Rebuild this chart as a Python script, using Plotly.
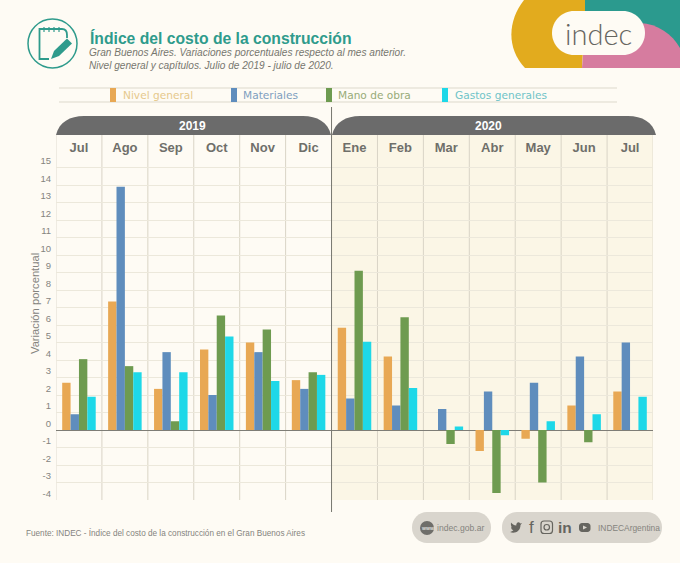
import plotly.graph_objects as go

W, H = 680, 563

months = ['Jul', 'Ago', 'Sep', 'Oct', 'Nov', 'Dic', 'Ene', 'Feb', 'Mar', 'Abr', 'May', 'Jun', 'Jul']
positions = list(range(13))
y_ticks = list(range(-4, 16))
y_tick_labels = [str(t) for t in y_ticks]

nivel_general = [2.7, 7.35, 2.35, 4.6, 5.0, 2.85, 5.85, 4.2, 0, -1.2, -0.5, 1.4, 2.2]
materiales = [0.9, 13.9, 4.45, 2.0, 4.45, 2.35, 1.8, 1.4, 1.2, 2.2, 2.7, 4.2, 5.0]
mano_de_obra = [4.05, 3.65, 0.5, 6.55, 5.75, 3.3, 9.1, 6.45, -0.8, -3.6, -3.0, -0.7, 0]
gastos_generales = [1.9, 3.3, 3.3, 5.35, 2.8, 3.15, 5.05, 2.4, 0.2, -0.3, 0.5, 0.9, 1.9]

series = [
    ('Nivel general', nivel_general, '#E8A854', '#E6C98C', 110, 123),
    ('Materiales', materiales, '#5F8DBD', '#7FA0C0', 231, 243),
    ('Mano de obra', mano_de_obra, '#6E9B50', '#98AB78', 326, 338),
    ('Gastos generales', gastos_generales, '#1ED8E8', '#70C4C8', 442, 455),
]

BG = '#FEFBF4'
TINT = '#FBF6E6'
TEAL = '#2F9B8C'
DARK = '#6B6B6B'
PILL = '#D9D5CD'
ICON = '#66655F'
SANS = 'Liberation Sans'

# plot area in page pixels
LEFT, RIGHT, TOP, BOTTOM = 56, 653, 135, 500
UNIT = 17.5


def px(*cmds):
    # path written in page pixels, y going down
    out = []
    for c in cmds:
        if isinstance(c, str):
            out.append(c)
        else:
            out.append(f'{c[0] / W:.5f} {1 - c[1] / H:.5f}')
    return ' '.join(out)


def deco(path, fill=None, line=None, width=0, layer='above'):
    return dict(type='path', xref='paper', yref='paper', path=path, layer=layer,
                fillcolor=fill or 'rgba(0,0,0,0)',
                line=dict(color=line or 'rgba(0,0,0,0)', width=width))


def box(x0, y0, x1, y1, fill=None, line=None, width=0, kind='rect', layer='above'):
    return dict(type=kind, xref='paper', yref='paper', x0=x0 / W, x1=x1 / W,
                y0=1 - y0 / H, y1=1 - y1 / H, layer=layer,
                fillcolor=fill or 'rgba(0,0,0,0)',
                line=dict(color=line or 'rgba(0,0,0,0)', width=width))


def pill(x0, y0, x1, y1, r, fill):
    k = r * 0.45
    return deco(px('M', (x0 + r, y0), 'L', (x1 - r, y0),
                   'C', (x1 - k, y0), (x1, y0 + k), (x1, y0 + r),
                   'L', (x1, y1 - r),
                   'C', (x1, y1 - k), (x1 - k, y1), (x1 - r, y1),
                   'L', (x0 + r, y1),
                   'C', (x0 + k, y1), (x0, y1 - k), (x0, y1 - r),
                   'L', (x0, y0 + r),
                   'C', (x0, y0 + k), (x0 + k, y0), (x0 + r, y0), 'Z'), fill=fill)


def text(x, y, s, size, color, anchor='left', family=SANS, angle=0, weight=None):
    # annotations carry a little padding on the left
    if anchor == 'left':
        x -= 2
    font = dict(size=size, color=color, family=family)
    if weight:
        font['weight'] = weight
    return dict(xref='paper', yref='paper', x=x / W, y=1 - y / H, text=s, showarrow=False,
                xanchor=anchor, yanchor='middle', textangle=angle, font=font)


fig = go.Figure()
for name, values, color, _, _, _ in series:
    fig.add_trace(go.Bar(x=positions, y=values, name=name, marker=dict(color=color, line_width=0)))

shapes = []

# 2020 tint and column dividers
shapes.append(dict(type='rect', xref='x', yref='paper', x0=5.5, x1=12.5,
                   y0=1 - BOTTOM / H, y1=1 - TOP / H, fillcolor=TINT, line_width=0, layer='below'))
for p in positions[:-1]:
    if p != 5:
        shapes.append(dict(type='line', xref='x', yref='paper', x0=p + 0.5, x1=p + 0.5,
                           y0=1 - BOTTOM / H, y1=1 - TOP / H,
                           line=dict(color='#D9D4C6', width=1), layer='below'))
for edge in (-0.5, 12.5):
    shapes.append(dict(type='line', xref='x', yref='paper', x0=edge, x1=edge,
                       y0=1 - BOTTOM / H, y1=1 - TOP / H,
                       line=dict(color='#E0DCCF', width=1), layer='below'))
shapes.append(dict(type='line', xref='x', yref='paper', x0=5.5, x1=5.5,
                   y0=1 - 512 / H, y1=1 - 107 / H, line=dict(color='#77776F', width=1)))

# year banners
for x0, x1 in ((56, 331), (332, 656)):
    shapes.append(deco(px('M', (x0, 135), 'C', (x0 + 3, 122), (x0 + 14, 116), (x0 + 28, 116),
                          'L', (x1 - 28, 116), 'C', (x1 - 14, 116), (x1 - 3, 122), (x1, 135), 'Z'),
                       fill=DARK))

# legend band
for y in (88, 102):
    shapes.append(box(59, y, 617, y, line='#DDD9CC', width=1, kind='line'))

# header icon
shapes.append(box(28, 19, 77, 68, line=TEAL, width=1.5, kind='circle'))
shapes.append(deco(px('M', (49, 59), 'L', (39.5, 59), 'L', (39.5, 29), 'L', (62, 29),
                      'C', (65, 29), (67, 31), (67, 35), 'L', (67, 38)), line=TEAL, width=1.8))
for x in (44, 49, 54, 59):
    shapes.append(box(x, 27, x, 32, line=TEAL, width=1.2, kind='line'))
shapes.append(deco(px('M', (51, 59), 'L', (54, 51), 'L', (67, 38.5), 'L', (72, 43.5), 'L', (59, 56), 'Z'),
                   fill=TEAL))

# logo
shapes.append(deco(px('M', (524, 0), 'C', (508, 20), (506, 48), (525, 68), 'L', (582, 68), 'L', (586, 0), 'Z'),
                   fill='#E2AB1E'))
shapes.append(deco(px('M', (585, 0), 'L', (680, 0), 'L', (680, 60), 'L', (600, 60), 'L', (585, 30), 'Z'),
                   fill='#2B9A8E'))
shapes.append(deco(px('M', (582, 68), 'L', (584, 40), 'L', (640, 23), 'C', (658, 24), (672, 34), (680, 48),
                      'L', (680, 68), 'Z'), fill='#D67C9F'))
shapes.append(pill(552, 11, 645, 55, 22, BG))

# footer pills
shapes.append(pill(412, 512, 491, 543, 15, PILL))
shapes.append(pill(502, 512, 662, 543, 15, PILL))
shapes.append(box(420, 521, 434, 535, fill='#6F6E6A', kind='circle'))

# social icons
shapes.append(deco(px('M', (510, 532), 'C', (514, 534), (520.5, 532), (520.5, 525), 'L', (522, 523), 'L', (520.3, 523.5),
                      'C', (518.5, 521), (516, 523), (516.3, 525.5), 'C', (514, 525.5), (512, 524), (511, 522.5),
                      'C', (510.6, 525), (511.3, 526.5), (512, 527.5), 'L', (511, 527.1),
                      'C', (511.3, 529), (512, 530), (513.4, 530.3), 'C', (512.7, 531), (511.3, 532), (510, 532), 'Z'),
                   fill=ICON))
shapes.append(pill(541, 521, 552.5, 533.5, 3, None) | dict(line=dict(color=ICON, width=1.2)))
shapes.append(box(544, 524.5, 549.5, 530, line=ICON, width=1.2, kind='circle'))
shapes.append(pill(579, 523, 590.5, 532, 3, ICON))
shapes.append(deco(px('M', (583, 525.5), 'L', (587, 527.5), 'L', (583, 529.5), 'Z'), fill=PILL))

annotations = [
    text(90, 38.5, '<b>Índice del costo de la construcción</b>', 15.7, TEAL),
    text(88.5, 52.5, '<i>Gran Buenos Aires. Variaciones porcentuales respecto al mes anterior.</i>', 10.1, '#77776F'),
    text(88.5, 65, '<i>Nivel general y capítulos. Julio de 2019 - julio de 2020.</i>', 10.1, '#77776F'),
    text(192, 126.5, '<b>2019</b>', 12, '#FFFFFF', 'center'),
    text(488, 126.5, '<b>2020</b>', 12, '#FFFFFF', 'center'),
    text(598, 33, 'indec', 29, '#66655F', 'center', family='Lato', weight=300),
    text(35, 304, 'Variación porcentual', 11.2, '#85847E', 'center', angle=-90),
    text(26, 533, 'Fuente: INDEC - Índice del costo de la construcción en el Gran Buenos Aires', 8.2, '#85847E'),
    text(427, 528, 'www', 5.5, '#FFFFFF', 'center'),
    text(437, 528, 'indec.gob.ar', 8.6, '#85847E'),
    text(531, 527, 'f', 17, ICON, 'center'),
    text(565, 527, '<b>in</b>', 15.5, ICON, 'center'),
    text(597.5, 528, 'INDECArgentina', 8.4, '#85847E'),
]

for name, _, color, label_color, swatch_x, label_x in series:
    shapes.append(box(swatch_x, 88, swatch_x + 6, 102, fill=color))
    annotations.append(text(label_x, 95, name, 10.6, label_color, family='DejaVu Sans'))

fig.update_layout(
    width=W, height=H,
    margin=dict(l=0, r=0, t=0, b=0),
    paper_bgcolor=BG, plot_bgcolor=BG,
    barmode='group', bargap=0.27, bargroupgap=0,
    showlegend=False,
    shapes=shapes,
    annotations=annotations,
    xaxis=dict(domain=[LEFT / W, RIGHT / W], range=[-0.5, 12.5], side='top',
               tickmode='array', tickvals=positions, ticktext=[f'<b>{m}</b>' for m in months],
               tickfont=dict(size=13, color='#6F6F6A', family=SANS),
               ticklabelposition='inside', ticklabelstandoff=5,
               showgrid=False, zeroline=False, ticks='', fixedrange=True),
    yaxis=dict(domain=[1 - BOTTOM / H, 1 - TOP / H], range=[-4, (430 - TOP) / UNIT],
               tickmode='array', tickvals=y_ticks, ticktext=y_tick_labels,
               ticklabelposition='outside top', ticklabelstandoff=4,
               tickfont=dict(size=9.5, color='#85847E', family=SANS),
               showgrid=True, gridcolor='#ECE8DB', gridwidth=1,
               zeroline=True, zerolinecolor='#7E7D76', zerolinewidth=1, ticks='', fixedrange=True),
)

fig.write_html("out.html", config=dict(displayModeBar=False), post_script="document.body.style.margin='0';")
